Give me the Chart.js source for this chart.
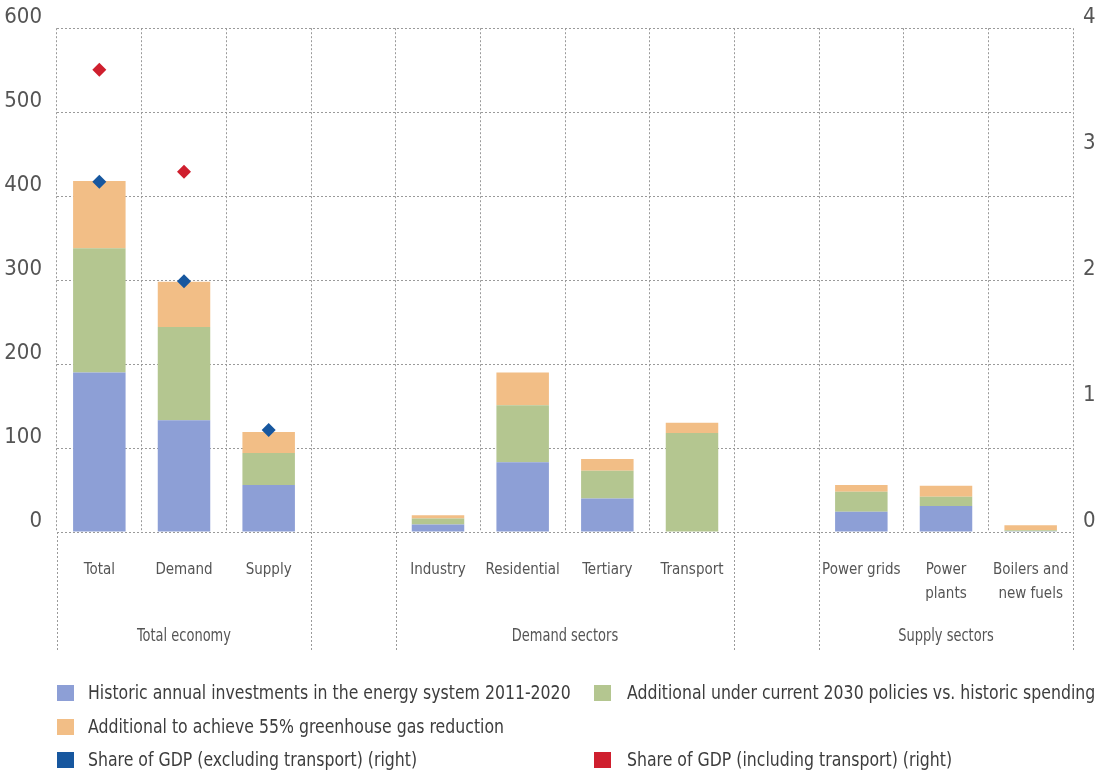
<!DOCTYPE html>
<html><head><meta charset="utf-8">
<script src="https://cdn.jsdelivr.net/npm/chart.js@4"></script>
<style>
html,body{margin:0;padding:0;background:#fff;}
#wrap{position:relative;width:1102px;height:778px;overflow:hidden;}
canvas{position:absolute;left:0;top:0;}
.lg{position:absolute;font-family:"Liberation Sans Narrow","DejaVu Sans Condensed",sans-serif;font-size:19px;color:#3d3d3d;white-space:nowrap;line-height:20px;transform:scaleX(0.92);transform-origin:0 50%;}
.sw{position:absolute;width:17px;height:16px;}
</style></head>
<body><div id="wrap"><canvas id="c" width="1102" height="778"></canvas><div id="legend"></div></div>
<script>
// ---- data ----
const categories = ['Total', 'Demand', 'Supply', '', 'Industry', 'Residential', 'Tertiary', 'Transport', '', 'Power grids', ['Power', 'plants'], ['Boilers and', 'new fuels']];
const groupLabels = ['Total economy', 'Demand sectors', 'Supply sectors'];
const historic = [190, 133, 56, null, 9, 83, 40, 0, null, 24, 31, 1];
const current2030 = [148, 111, 38, null, 7, 68, 33, 118, null, 24, 11, 1];
const ghg55 = [80, 54, 25, null, 4, 39, 14, 12, null, 8, 13, 6];
const gdpExclTransport = [2.78, 1.99, 0.81, null, null, null, null, null, null, null, null, null];
const gdpInclTransport = [3.67, 2.86, null, null, null, null, null, null, null, null, null, null];
const leftTicks = [0, 100, 200, 300, 400, 500, 600];
const rightTicks = [0, 1, 2, 3, 4];
const seriesNames = ['Historic annual investments in the energy system 2011-2020', 'Additional under current 2030 policies vs. historic spending', 'Additional to achieve 55% greenhouse gas reduction', 'Share of GDP (excluding transport) (right)', 'Share of GDP (including transport) (right)'];

// ---- style ----
const FONT = '"Liberation Sans Narrow","DejaVu Sans Condensed",sans-serif';
const C_BLUE = '#8d9fd6', C_GREEN = '#b4c690', C_ORANGE = '#f2be86', C_DBLUE = '#17579f', C_RED = '#cf1f2e';
const GRID = '#9a9a9a';

// group boundaries: [startIndex, endIndex] inclusive
const groups = [[0, 2], [4, 7], [9, 11]];

const groupPlugin = {
  id: 'groups',
  afterDraw(chart) {
    const ctx = chart.ctx, x = chart.scales.x, area = chart.chartArea;
    const w = (x.right - x.left) / categories.length;
    const edge = i => x.left + i * w;
    const seps = [0, 3, 4, 8, 9, 12];
    ctx.save();
    ctx.strokeStyle = GRID; ctx.lineWidth = 1; ctx.setLineDash([2, 2]);
    seps.forEach(i => {
      const px = Math.round(edge(i)) + 0.5;
      ctx.beginPath(); ctx.moveTo(px, area.bottom); ctx.lineTo(px, 650); ctx.stroke();
    });
    ctx.setLineDash([]);
    ctx.fillStyle = '#555'; ctx.font = '17px ' + FONT; ctx.textAlign = 'center'; ctx.textBaseline = 'middle';
    groups.forEach((g, k) => {
      const cx = (edge(g[0]) + edge(g[1] + 1)) / 2;
      ctx.save();
      ctx.translate(cx, 637);
      ctx.scale(0.85, 1);
      ctx.fillText(groupLabels[k], 0, 0);
      ctx.restore();
    });
    ctx.restore();
  }
};

new Chart(document.getElementById('c'), {
  data: {
    labels: categories,
    datasets: [
      { type: 'bar', label: seriesNames[0], data: historic, backgroundColor: C_BLUE, order: 2, yAxisID: 'y' },
      { type: 'bar', label: seriesNames[1], data: current2030, backgroundColor: C_GREEN, order: 2, yAxisID: 'y' },
      { type: 'bar', label: seriesNames[2], data: ghg55, backgroundColor: C_ORANGE, order: 2, yAxisID: 'y' },
      { type: 'line', label: seriesNames[3], data: gdpExclTransport, yAxisID: 'y1', showLine: false, pointStyle: 'rectRot', pointRadius: 7, backgroundColor: C_DBLUE, borderColor: C_DBLUE, borderWidth: 0, order: 1 },
      { type: 'line', label: seriesNames[4], data: gdpInclTransport, yAxisID: 'y1', showLine: false, pointStyle: 'rectRot', pointRadius: 7, backgroundColor: C_RED, borderColor: C_RED, borderWidth: 0, order: 1 }
    ]
  },
  options: {
    responsive: false,
    animation: false,
    layout: { padding: { top: 28, left: 0, right: 0, bottom: 0 } },
    datasets: { bar: { barPercentage: 0.62, categoryPercentage: 1.0 } },
    plugins: { legend: { display: false }, tooltip: { enabled: false } },
    scales: {
      x: {
        stacked: true,
        grid: { color: GRID, drawTicks: false, offset: true },
        border: { display: false, dash: [2, 2] },
        ticks: { autoSkip: false, maxRotation: 0, minRotation: 0, padding: 26, color: '#555', font: { family: FONT, size: 15, lineHeight: 1.6 } },
        afterFit(s) { s.height = 778 - 532; }
      },
      y: {
        stacked: true, min: 0, max: 600,
        afterBuildTicks(s) { s.ticks = leftTicks.map(v => ({ value: v })); },
        grid: { color: GRID, drawTicks: false },
        border: { display: false, dash: [2, 2] },
        ticks: { padding: 15, labelOffset: -11, color: '#555', font: { family: FONT, size: 22 } },
        afterFit(s) { s.width = 57; }
      },
      y1: {
        position: 'right', min: 0, max: 4,
        afterBuildTicks(s) { s.ticks = rightTicks.map(v => ({ value: v })); },
        grid: { display: false, drawTicks: false },
        border: { display: false },
        ticks: { padding: 10, labelOffset: -11, color: '#555', font: { family: FONT, size: 22 } },
        afterFit(s) { s.width = 29; }
      }
    }
  },
  plugins: [groupPlugin]
});

// ---- legend (HTML) ----
const legendColors = [C_BLUE, C_GREEN, C_ORANGE, C_DBLUE, C_RED];
// [swatch x, text x, row centre y]
const legendPos = [[57, 88, 693], [594, 627, 693], [57, 88, 727], [57, 88, 760], [594, 627, 760]];
const lg = document.getElementById('legend');
seriesNames.forEach((n, i) => {
  const [sx, tx, ly] = legendPos[i];
  const sw = document.createElement('div');
  sw.className = 'sw'; sw.style.left = sx + 'px'; sw.style.top = (ly - 8) + 'px'; sw.style.background = legendColors[i];
  lg.appendChild(sw);
  const t = document.createElement('div');
  t.className = 'lg'; t.style.left = tx + 'px'; t.style.top = (ly - 11) + 'px'; t.textContent = n;
  lg.appendChild(t);
});
</script>
</body></html>
